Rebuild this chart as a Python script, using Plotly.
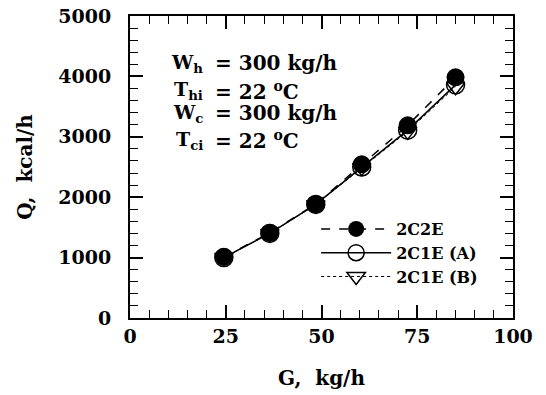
import plotly.graph_objects as go

G = [24.5, 36.5, 48.5, 60.5, 72.5, 85]
Q_2C2E = [1010, 1410, 1885, 2545, 3190, 3985]
Q_2C1E_A = [1000, 1400, 1880, 2500, 3110, 3860]
Q_2C1E_B = [1000, 1400, 1875, 2490, 3090, 3830]

x_ticks = [0, 25, 50, 75, 100]
y_ticks = [0, 1000, 2000, 3000, 4000, 5000]

params_left = ["W<sub>h</sub>", "T<sub>hi</sub>", "W<sub>c</sub>", "T<sub>ci</sub>"]
params_right = ["= 300 kg/h", "= 22 <sup>o</sup>C", "= 300 kg/h", "= 22 <sup>o</sup>C"]

FONT = "DejaVu Serif"

fig = go.Figure()
fig.add_trace(go.Scatter(x=G, y=Q_2C2E, name="2C2E", mode="lines+markers",
                         line=dict(color="black", width=1.5, dash="dash"),
                         marker=dict(symbol="circle", size=18, color="black")))
fig.add_trace(go.Scatter(x=G, y=Q_2C1E_A, name="2C1E (A)", mode="lines+markers",
                         line=dict(color="black", width=1.5, dash="solid"),
                         marker=dict(symbol="circle-open", size=18, color="black",
                                     line=dict(width=1.5, color="black"))))
fig.add_trace(go.Scatter(x=G, y=Q_2C1E_B, name="2C1E (B)", mode="lines+markers",
                         line=dict(color="black", width=1, dash="dot"),
                         marker=dict(symbol="triangle-down-open", size=16, color="black",
                                     line=dict(width=1.5, color="black"))))

axis_common = dict(
    showline=True, linecolor="black", linewidth=2, mirror="ticks",
    ticks="inside", ticklen=13, tickwidth=1.5, tickcolor="black",
    showgrid=False, zeroline=False, automargin=False,
    tickfont=dict(family=FONT, size=19, color="black", weight="bold"),
)

fig.update_xaxes(range=[0, 100], tickvals=x_ticks, ticktext=[str(v) for v in x_ticks],
                 minor=dict(dtick=5, ticks="inside", ticklen=8, tickwidth=1.2, tickcolor="black"),
                 title=dict(text="G,&nbsp; kg/h", font=dict(family=FONT, size=20, color="black", weight="bold"),
                            standoff=25),
                 **axis_common)
fig.update_yaxes(range=[0, 5000], tickvals=y_ticks, ticktext=[str(v) for v in y_ticks],
                 minor=dict(dtick=200, ticks="inside", ticklen=8, tickwidth=1.2, tickcolor="black"),
                 title=dict(text="Q,&nbsp; kcal/h", font=dict(family=FONT, size=20, color="black", weight="bold"),
                            standoff=20),
                 ticklabelstandoff=13,
                 **axis_common)

ys = [0.843, 0.753, 0.678, 0.588]
for lt, rt, yy in zip(params_left, params_right, ys):
    fig.add_annotation(x=0.195, y=yy, xref="paper", yref="paper", text=lt, showarrow=False,
                       xanchor="right", yanchor="middle",
                       font=dict(family=FONT, size=19, color="black", weight="bold"))
    fig.add_annotation(x=0.217, y=yy, xref="paper", yref="paper", text=rt, showarrow=False,
                       xanchor="left", yanchor="middle",
                       font=dict(family=FONT, size=20, color="black", weight="bold"))

fig.update_layout(
    width=546, height=395,
    margin=dict(l=130, r=33, t=16, b=77),
    paper_bgcolor="white", plot_bgcolor="white",
    showlegend=True,
    legend=dict(x=0.486, y=0.351, xanchor="left", yanchor="top",
                bgcolor="rgba(0,0,0,0)", borderwidth=0, itemwidth=70,
                font=dict(family=FONT, size=16, color="black", weight="bold"),
                tracegroupgap=0),
)

fig.write_html("out.html", config={"displayModeBar": False},
               post_script="document.body.style.margin='0';document.body.style.overflow='hidden';")
